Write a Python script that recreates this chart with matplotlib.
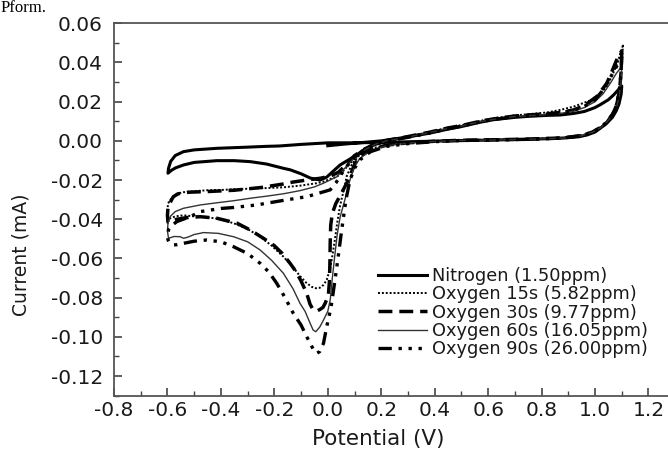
import matplotlib
matplotlib.use("Agg")
import matplotlib.pyplot as plt
from matplotlib.ticker import MultipleLocator, FormatStrFormatter

# ---------------- data (potential V, current mA) ----------------
labels = ["Nitrogen (1.50ppm)", "Oxygen 15s (5.82ppm)", "Oxygen 30s (9.77ppm)",
          "Oxygen 60s (16.05ppm)", "Oxygen 90s (26.00ppm)"]

n2_v = [0.00, 0.05, 0.10, 0.15, 0.20, 0.25, 0.30, 0.38, 0.45, 0.50, 0.57, 0.62, 0.70, 0.75,
        0.82, 0.87, 0.92, 0.96, 1.00, 1.02, 1.05, 1.07, 1.09, 1.10,
        1.098, 1.09, 1.08, 1.065, 1.04, 1.02, 1.00, 0.97, 0.94, 0.87, 0.75, 0.57, 0.45, 0.32,
        0.20, 0.10, 0.00, -0.10, -0.18, -0.23, -0.30, -0.415, -0.50, -0.54, -0.571, -0.588,
        -0.596, -0.598,
        -0.585, -0.57, -0.54, -0.50, -0.415, -0.35, -0.29, -0.23, -0.166, -0.14, -0.10, -0.065,
        -0.029, -0.004, 0.02, 0.046, 0.08, 0.108, 0.14, 0.171, 0.233]
n2_i = [-0.0025, -0.0018, -0.0012, -0.0006, 0.0000, 0.0010, 0.0020, 0.0039, 0.0060, 0.0073,
        0.0095, 0.0108, 0.0120, 0.0125, 0.0130, 0.0132, 0.0140, 0.0150, 0.0170, 0.0185, 0.0210,
        0.0235, 0.0265, 0.0280,
        0.0240, 0.0190, 0.0155, 0.0120, 0.0085, 0.0065, 0.0045, 0.0030, 0.0021, 0.0013, 0.0008,
        0.0003, 0.0000, -0.0004, -0.0008, -0.0010, -0.0010, -0.0018, -0.0026, -0.0028, -0.0032,
        -0.0038, -0.0046, -0.0055, -0.0075, -0.0105, -0.0140, -0.0165,
        -0.0150, -0.0138, -0.0123, -0.0110, -0.0101, -0.0101, -0.0106, -0.0118, -0.0140,
        -0.0148, -0.0168, -0.0190, -0.0200, -0.0185, -0.0155, -0.0123, -0.0095, -0.0072,
        -0.0045, -0.0021, 0.0005]

o15_v = [1.105, 1.10, 1.095, 1.085, 1.07, 1.05, 1.02, 0.99, 0.95, 0.88, 0.75, 0.60, 0.50, 0.40,
         0.30, 0.22, 0.16, 0.12, 0.09, 0.071, 0.06, 0.046, 0.035, 0.027, 0.018, 0.009, -0.004,
         -0.016, -0.03, -0.045, -0.06, -0.08, -0.104, -0.13, -0.166, -0.21, -0.253, -0.30,
         -0.353, -0.41, -0.465, -0.50, -0.54, -0.57, -0.589, -0.598,
         -0.600, -0.598, -0.589, -0.575, -0.565, -0.54, -0.503, -0.45, -0.39, -0.353, -0.25,
         -0.166, -0.10, -0.041, -0.016, 0.015, 0.034, 0.05, 0.08, 0.108, 0.15, 0.183, 0.22,
         0.30, 0.38, 0.45, 0.50, 0.57, 0.62, 0.70, 0.75, 0.82, 0.87, 0.92, 0.96, 0.994, 1.02,
         1.044, 1.068, 1.085, 1.094, 1.105]
o15_i = [0.0490, 0.0400, 0.0300, 0.0210, 0.0150, 0.0100, 0.0068, 0.0045, 0.0028, 0.0016,
         0.0010, 0.0006, 0.0004, 0.0000, -0.0008, -0.0020, -0.0040, -0.0070, -0.0120, -0.0180,
         -0.0250, -0.0330, -0.0420, -0.0500, -0.0580, -0.0650, -0.0710, -0.0735, -0.0750,
         -0.0752, -0.0745, -0.0725, -0.0690, -0.0645, -0.0591, -0.0535, -0.0489, -0.0450,
         -0.0420, -0.0398, -0.0387, -0.0385, -0.0380, -0.0385, -0.0395, -0.0400,
         -0.0360, -0.0320, -0.0300, -0.0282, -0.0270, -0.0262, -0.0257, -0.0252, -0.0250,
         -0.0247, -0.0242, -0.0237, -0.0228, -0.0216, -0.0208, -0.0191, -0.0183, -0.0165,
         -0.0120, -0.0080, -0.0035, -0.0012, 0.0003, 0.0022, 0.0045, 0.0068, 0.0080, 0.0102,
         0.0115, 0.0130, 0.0136, 0.0145, 0.0158, 0.0175, 0.0195, 0.0212, 0.0240, 0.0277,
         0.0345, 0.0400, 0.0445, 0.0490]

o30_v = [1.10, 1.098, 1.092, 1.082, 1.068, 1.045, 1.02, 0.99, 0.95, 0.88, 0.75, 0.60, 0.50,
         0.40, 0.30, 0.22, 0.16, 0.12, 0.10, 0.077, 0.05, 0.03, 0.017, 0.011, 0.009, 0.008,
         0.006, 0.002, -0.010, -0.018, -0.029, -0.040, -0.054, -0.066, -0.079, -0.10, -0.12,
         -0.141, -0.17, -0.20, -0.241, -0.29, -0.34, -0.415, -0.477, -0.53, -0.565, -0.589,
         -0.598,
         -0.600, -0.598, -0.590, -0.578, -0.56, -0.52, -0.44, -0.35, -0.25, -0.166, -0.129,
         -0.07, -0.029, 0.009, 0.04, 0.07, 0.10, 0.14, 0.18, 0.22, 0.30, 0.38, 0.45, 0.50, 0.57,
         0.62, 0.70, 0.75, 0.82, 0.87, 0.92, 0.96, 1.006, 1.02, 1.044, 1.065, 1.081, 1.094, 1.10]
o30_i = [0.0460, 0.0360, 0.0260, 0.0190, 0.0140, 0.0095, 0.0068, 0.0045, 0.0027, 0.0015,
         0.0009, 0.0005, 0.0003, -0.0002, -0.0010, -0.0022, -0.0045, -0.0080, -0.0120,
         -0.0200, -0.0270, -0.0320, -0.0370, -0.0430, -0.0520, -0.0620, -0.0720, -0.0790,
         -0.0829, -0.0850, -0.0860, -0.0868, -0.0863, -0.0835, -0.0778, -0.0715, -0.0665,
         -0.0625, -0.0575, -0.0535, -0.0497, -0.0455, -0.0420, -0.0395, -0.0387, -0.0392,
         -0.0400, -0.0412, -0.0415,
         -0.0380, -0.0340, -0.0315, -0.0285, -0.0270, -0.0262, -0.0258, -0.0252, -0.0238,
         -0.0220, -0.0210, -0.0198, -0.0191, -0.0180, -0.0160, -0.0120, -0.0075, -0.0040,
         -0.0013, 0.0002, 0.0022, 0.0044, 0.0066, 0.0078, 0.0100, 0.0112, 0.0127, 0.0132,
         0.0138, 0.0145, 0.0158, 0.0180, 0.0226, 0.0250, 0.0294, 0.0360, 0.0413, 0.0445, 0.0460]

o60_v = [1.10, 1.097, 1.09, 1.08, 1.065, 1.04, 1.02, 0.99, 0.95, 0.88, 0.75, 0.60, 0.50, 0.40,
         0.30, 0.22, 0.16, 0.12, 0.10, 0.083, 0.07, 0.058, 0.046, 0.035, 0.025, 0.017, 0.009,
         0.000, -0.016, -0.030, -0.045, -0.055, -0.066, -0.085, -0.104, -0.13, -0.166, -0.21,
         -0.253, -0.30, -0.353, -0.41, -0.465, -0.50, -0.525, -0.540, -0.553, -0.575, -0.596,
         -0.600, -0.598, -0.589, -0.571, -0.54, -0.477, -0.415, -0.35, -0.291, -0.228, -0.166,
         -0.104, -0.05, -0.016, 0.034, 0.07, 0.10, 0.14, 0.18, 0.22, 0.30, 0.38, 0.45, 0.50,
         0.57, 0.62, 0.70, 0.75, 0.82, 0.87, 0.92, 0.96, 1.00, 1.03, 1.06, 1.08, 1.10]
o60_i = [0.0380, 0.0300, 0.0220, 0.0170, 0.0128, 0.0090, 0.0066, 0.0044, 0.0026, 0.0014,
         0.0008, 0.0004, 0.0002, -0.0003, -0.0012, -0.0025, -0.0050, -0.0090, -0.0130,
         -0.0200, -0.0270, -0.0330, -0.0390, -0.0480, -0.0600, -0.0700, -0.0812, -0.0870,
         -0.0914, -0.0950, -0.0974, -0.0965, -0.0931, -0.0870, -0.0829, -0.0755, -0.0676,
         -0.0610, -0.0557, -0.0515, -0.0489, -0.0472, -0.0468, -0.0478, -0.0492, -0.0497,
         -0.0489, -0.0488, -0.0497,
         -0.0460, -0.0420, -0.0385, -0.0361, -0.0344, -0.0327, -0.0316, -0.0305, -0.0293,
         -0.0282, -0.0270, -0.0254, -0.0235, -0.0216, -0.0183, -0.0130, -0.0085, -0.0045,
         -0.0016, 0.0000, 0.0020, 0.0042, 0.0064, 0.0076, 0.0098, 0.0110, 0.0124, 0.0128,
         0.0134, 0.0140, 0.0152, 0.0170, 0.0200, 0.0240, 0.0300, 0.0345, 0.0380]

o90_v = [1.10, 1.097, 1.09, 1.08, 1.065, 1.04, 1.02, 0.99, 0.95, 0.88, 0.75, 0.60, 0.50, 0.40,
         0.30, 0.22, 0.16, 0.12, 0.10, 0.083, 0.068, 0.052, 0.04, 0.027, 0.012, -0.004, -0.016,
         -0.030, -0.041, -0.052, -0.065, -0.079, -0.10, -0.129, -0.16, -0.191, -0.22, -0.253,
         -0.30, -0.353, -0.40, -0.453, -0.50, -0.54, -0.565, -0.578, -0.592, -0.598,
         -0.600, -0.595, -0.589, -0.565, -0.515, -0.477, -0.40, -0.353, -0.266, -0.228, -0.15,
         -0.079, -0.016, 0.009, 0.03, 0.06, 0.09, 0.13, 0.17, 0.22, 0.30, 0.38, 0.45, 0.50,
         0.57, 0.62, 0.70, 0.75, 0.82, 0.87, 0.92, 0.96, 1.00, 1.03, 1.06, 1.085, 1.10]
o90_i = [0.0430, 0.0340, 0.0250, 0.0180, 0.0135, 0.0092, 0.0067, 0.0045, 0.0027, 0.0015,
         0.0008, 0.0004, 0.0002, -0.0004, -0.0014, -0.0028, -0.0055, -0.0097, -0.0140,
         -0.0200, -0.0300, -0.0455, -0.0580, -0.0710, -0.0850, -0.0948, -0.1033, -0.1075,
         -0.1084, -0.1070, -0.1035, -0.0999, -0.0940, -0.0880, -0.0800, -0.0727, -0.0670,
         -0.0625, -0.0575, -0.0540, -0.0515, -0.0506, -0.0512, -0.0523, -0.0530, -0.0531,
         -0.0520, -0.0505,
         -0.0480, -0.0450, -0.0438, -0.0412, -0.0387, -0.0361, -0.0345, -0.0340, -0.0327,
         -0.0318, -0.0300, -0.0285, -0.0260, -0.0250, -0.0215, -0.0150, -0.0095, -0.0050,
         -0.0020, -0.0002, 0.0018, 0.0040, 0.0062, 0.0075, 0.0097, 0.0109, 0.0124, 0.0129,
         0.0136, 0.0143, 0.0156, 0.0176, 0.0210, 0.0260, 0.0330, 0.0390, 0.0430]

x_ticks = [-0.8, -0.6, -0.4, -0.2, 0.0, 0.2, 0.4, 0.6, 0.8, 1.0, 1.2]
y_ticks = [-0.12, -0.10, -0.08, -0.06, -0.04, -0.02, 0.00, 0.02, 0.04, 0.06]

# ---------------- figure ----------------
W, H = 668, 453
fig = plt.figure(figsize=(W / 100, H / 100), dpi=100)
plt.rcParams['font.family'] = ['DejaVu Sans']

ax_left, ax_right, ax_top, ax_bottom = 114, 675.2, 23.3, 395.6
ax = fig.add_axes([ax_left / W, 1 - ax_bottom / H, (ax_right - ax_left) / W,
                   (ax_bottom - ax_top) / H])

styles = [
    dict(color='black', lw=2.2, ls='-'),
    dict(color='black', lw=1.4, ls=(0, (1, 1))),
    dict(color='black', lw=2.5, ls=(0, (4, 2))),
    dict(color='#333333', lw=1.0, ls='-'),
    dict(color='black', lw=2.4, ls=(0, (4, 2, 1, 2, 1, 2, 1, 2))),
]
series = [(n2_v, n2_i), (o15_v, o15_i), (o30_v, o30_i), (o60_v, o60_i), (o90_v, o90_i)]
for (v, i), lab, st in zip(series, labels, styles):
    ax.plot(v, i, label=lab, solid_joinstyle='round', dash_capstyle='butt', **st)

ax.set_xlim(-0.8, 1.3)
ax.set_ylim(-0.13, 0.06)
ax.set_xticks(x_ticks)
ax.set_yticks(y_ticks)
ax.xaxis.set_minor_locator(MultipleLocator(0.1))
ax.yaxis.set_minor_locator(MultipleLocator(0.01))
ax.xaxis.set_major_formatter(FormatStrFormatter('%.1f'))
ax.yaxis.set_major_formatter(FormatStrFormatter('%.2f'))
ax.tick_params(which='both', direction='in', top=False, right=False, colors='#444444',
               labelcolor='#1a1a1a')
ax.tick_params(which='major', length=6, width=1.2, labelsize=14.5)
ax.tick_params(which='minor', length=3.5, width=1.0)
ax.tick_params(axis='y', pad=8)
ax.tick_params(axis='x', pad=4)
for s in ax.spines.values():
    s.set_color('#555555')
    s.set_linewidth(1.3)

ax.set_xlabel('Potential (V)', fontsize=15.5, color='#1a1a1a')
ax.set_ylabel('Current (mA)', fontsize=13.5, color='#1a1a1a')
ax.xaxis.set_label_coords((377.8 - ax_left) / (ax_right - ax_left),
                          (ax_bottom - 439.5) / (ax_bottom - ax_top))
ax.xaxis.label.set_va('center')
ax.yaxis.set_label_coords((21 - ax_left) / (ax_right - ax_left),
                          (ax_bottom - 255) / (ax_bottom - ax_top))
ax.yaxis.label.set_va('center')
ax.yaxis.label.set_rotation_mode('default')

leg = ax.legend(loc='upper left', bbox_to_anchor=(378 / W, 1 - 267 / H),
                bbox_transform=fig.transFigure, frameon=False, fontsize=12.8,
                handlelength=2.75, handletextpad=0.3, labelspacing=0.02,
                borderpad=0, borderaxespad=0)
for t in leg.get_texts():
    t.set_color('#1a1a1a')

fig.text(0.5 / W, 1 - 0.5 / H, 'Pform.', fontsize=12, family='Liberation Serif',
         va='top', ha='left', color='black')

fig.savefig('out.png', dpi=100)
